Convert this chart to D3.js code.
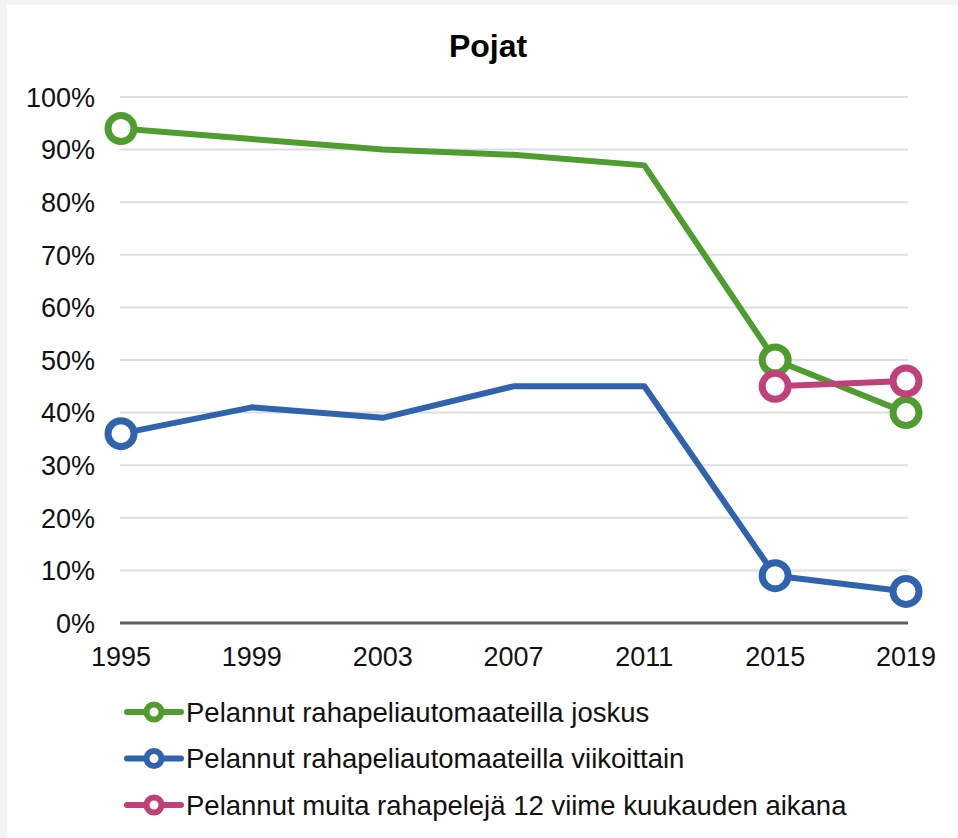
<!DOCTYPE html>
<html>
<head>
<meta charset="utf-8">
<script src="https://cdn.jsdelivr.net/npm/d3@7"></script>
<style>
  body { margin: 0; background: #f3f3f3; }
  svg { display: block; font-family: "Liberation Sans", Arial, sans-serif; }
</style>
</head>
<body>
<svg id="chart" width="958" height="838"></svg>
<script>
// data
const years = ["1995", "1999", "2003", "2007", "2011", "2015", "2019"];
const joskus = [94, 92, 90, 89, 87, 50, 40];
const viikoittain = [36, 41, 39, 45, 45, 9, 6];
const muita = [null, null, null, null, null, 45, 46];
const yTicks = [0, 10, 20, 30, 40, 50, 60, 70, 80, 90, 100];
const seriesNames = [
    "Pelannut rahapeliautomaateilla joskus",
    "Pelannut rahapeliautomaateilla viikoittain",
    "Pelannut muita rahapelejä 12 viime kuukauden aikana"
];
const markerYears = [["1995", "2015", "2019"], ["1995", "2015", "2019"], ["2015", "2019"]];
const colors = ["#509d2f", "#2f63ae", "#c2407a"];

const svg = d3.select("#chart");

// white panel
svg.append("rect")
    .attr("x", 7).attr("y", 5)
    .attr("width", 958 - 7).attr("height", 838 - 5)
    .attr("fill", "#ffffff");

const x = d3.scalePoint().domain(years).range([121, 906]);
const y = d3.scaleLinear().domain([0, 100]).range([623, 97]);

// title
svg.append("text")
    .attr("x", 488).attr("y", 57)
    .attr("text-anchor", "middle")
    .style("font-size", "32px")
    .style("font-weight", "bold")
    .text("Pojat");

// gridlines
svg.append("g")
    .selectAll("line")
    .data(yTicks.filter(d => d > 0))
    .enter()
    .append("line")
    .attr("x1", 120).attr("x2", 908)
    .attr("y1", d => y(d)).attr("y2", d => y(d))
    .style("stroke", "#dcdee2")
    .style("stroke-width", 2);

// x axis line
svg.append("line")
    .attr("x1", 120).attr("x2", 908)
    .attr("y1", y(0)).attr("y2", y(0))
    .style("stroke", "#5e5e5e")
    .style("stroke-width", 3);

// y tick labels
svg.append("g")
    .selectAll("text")
    .data(yTicks)
    .enter()
    .append("text")
    .attr("x", 95)
    .attr("y", d => y(d))
    .attr("dy", "0.36em")
    .attr("text-anchor", "end")
    .style("font-size", "27px")
    .style("fill", "#111")
    .text(d => d + "%");

// x tick labels
svg.append("g")
    .selectAll("text")
    .data(years)
    .enter()
    .append("text")
    .attr("x", d => x(d))
    .attr("y", 666)
    .attr("text-anchor", "middle")
    .style("font-size", "27px")
    .style("fill", "#111")
    .text(d => d);

// lines and markers
const allSeries = [joskus, viikoittain, muita];
const line = d3.line()
    .defined(d => d.v != null)
    .x(d => x(d.year))
    .y(d => y(d.v));

allSeries.forEach((vals, i) => {
    const pts = years.map((yr, j) => ({ year: yr, v: vals[j] }));
    svg.append("path")
        .datum(pts)
        .attr("d", line)
        .style("fill", "none")
        .style("stroke", colors[i])
        .style("stroke-width", 6)
        .style("stroke-linejoin", "round");

    svg.append("g")
        .selectAll("circle")
        .data(pts.filter(d => d.v != null && markerYears[i].includes(d.year)))
        .enter()
        .append("circle")
        .attr("cx", d => x(d.year))
        .attr("cy", d => y(d.v))
        .attr("r", 13)
        .style("fill", "#fff")
        .style("stroke", colors[i])
        .style("stroke-width", 7);
});

// legend
const legend = svg.append("g");
seriesNames.forEach((name, i) => {
    const ly = 712 + i * 46.5;
    legend.append("line")
        .attr("x1", 127).attr("x2", 181)
        .attr("y1", ly).attr("y2", ly)
        .style("stroke", colors[i])
        .style("stroke-width", 6)
        .style("stroke-linecap", "round");
    legend.append("circle")
        .attr("cx", 154).attr("cy", ly)
        .attr("r", 7.5)
        .style("fill", "#fff")
        .style("stroke", colors[i])
        .style("stroke-width", 6);
    legend.append("text")
        .attr("x", 186).attr("y", ly)
        .attr("dy", "0.36em")
        .style("font-size", "27.5px")
        .style("fill", "#111")
        .text(name);
});
</script>
</body>
</html>
